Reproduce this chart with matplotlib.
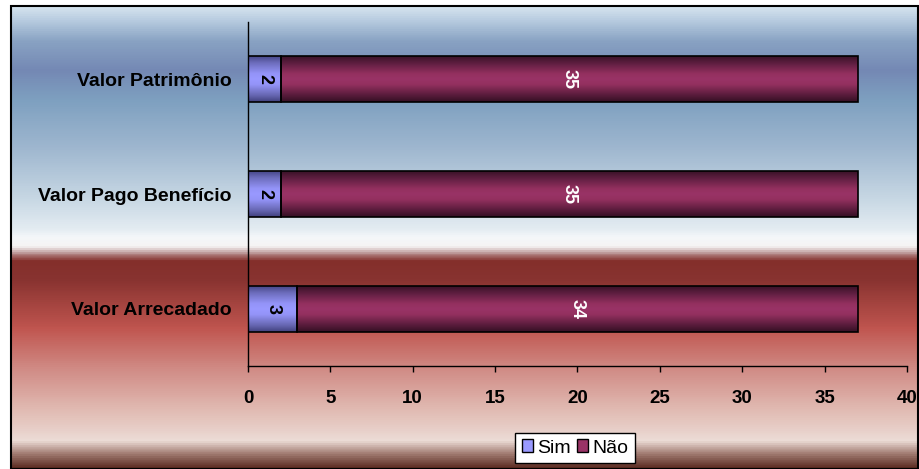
import numpy as np
import matplotlib.pyplot as plt
from matplotlib.colors import LinearSegmentedColormap
from matplotlib.patches import Patch, Rectangle

plt.rcParams['font.family'] = ['Liberation Sans', 'DejaVu Sans']

categorias = ['Valor Arrecadado', 'Valor Pago Benefício', 'Valor Patrimônio']
sim = [3, 2, 2]
nao = [34, 35, 35]

W, H = 920, 469
fig = plt.figure(figsize=(W / 100, H / 100), dpi=100)

# background panel with the blue / white / red gradient
bg = fig.add_axes([11 / W, 0, (918 - 11) / W, (H - 6) / H])
stops = [(0.000, '#d8e6f0'), (0.030, '#b8cce0'), (0.073, '#8aa4c4'),
         (0.138, '#7488b4'), (0.203, '#7ea0c0'), (0.311, '#a0b8d0'),
         (0.419, '#c8d8e4'), (0.484, '#e4ecf2'), (0.500, '#f4f7f9'),
         (0.520, '#f6f4f4'), (0.535, '#b89090'), (0.553, '#842f2b'),
         (0.592, '#883330'), (0.698, '#c0554f'), (0.784, '#d08a84'),
         (0.870, '#e0b8b0'), (0.942, '#ecdcd6'), (0.970, '#a07a70'),
         (1.000, '#5a2a20')]
bg_cmap = LinearSegmentedColormap.from_list('bg', stops)
bg.imshow(np.linspace(0, 1, 500).reshape(-1, 1), cmap=bg_cmap,
          aspect='auto', extent=[0, 1, 1, 0])
bg.set_xlim(0, 1)
bg.set_ylim(1, 0)
bg.axis('off')
fig.patches.append(Rectangle((11 / W, 0), (918 - 11) / W, (H - 6) / H,
                             transform=fig.transFigure, fill=False,
                             edgecolor='black', lw=1.5, zorder=10))

ax = fig.add_axes([248 / W, 1 - 366 / H, (907 - 248) / W, (366 - 22) / H])
ax.patch.set_alpha(0)

y = np.arange(len(categorias))
b1 = ax.barh(y, sim, height=0.4, color='#9999ff', edgecolor='black', lw=1.2)
b2 = ax.barh(y, nao, left=sim, height=0.4, color='#993366',
             edgecolor='black', lw=1.2)

# shaded look of the bars: dark at top and bottom, full colour in the middle
sim_cmap = LinearSegmentedColormap.from_list(
    's', [(0, '#48488a'), (0.15, '#6e6ebe'), (0.38, '#9494f8'), (0.5, '#9999ff'),
          (0.62, '#9494f8'), (0.85, '#6868b4'), (1, '#42427e')])
nao_cmap = LinearSegmentedColormap.from_list(
    'n', [(0, '#3a1228'), (0.15, '#5e1e40'), (0.38, '#93305f'), (0.5, '#993366'),
          (0.62, '#93305f'), (0.85, '#5a1c3c'), (1, '#351024')])
grad = np.linspace(0, 1, 100).reshape(-1, 1)
for bars, cmap in ((b1, sim_cmap), (b2, nao_cmap)):
    for r in bars:
        x0, y0 = r.get_x(), r.get_y()
        im = ax.imshow(grad, cmap=cmap, aspect='auto', origin='lower',
                       interpolation='bilinear',
                       extent=[x0, x0 + r.get_width(), y0 + r.get_height(), y0],
                       zorder=r.get_zorder() - 0.1)
        im.set_clip_path(r)
        r.set_facecolor('none')

for i in range(len(categorias)):
    ax.text(sim[i] / 2, y[i], str(sim[i]), rotation=-90, ha='center',
            va='center', fontsize=13, fontweight='bold', color='black')
    ax.text(sim[i] + nao[i] / 2, y[i], str(nao[i]), rotation=-90,
            ha='center', va='center', fontsize=13, fontweight='bold',
            color='white')

ax.set_xlim(0, 40)
ax.set_ylim(-0.5, 2.5)
ax.set_xticks(range(0, 41, 5))
ax.set_yticks(y)
ax.set_yticklabels(categorias, fontsize=14, fontweight='bold')
ax.tick_params(axis='y', length=0, pad=12)
ax.tick_params(axis='x', length=4, pad=13, labelsize=13.5, width=1)
for lbl in ax.get_xticklabels():
    lbl.set_fontweight('bold')
for s in ('top', 'right'):
    ax.spines[s].set_visible(False)
for s in ('left', 'bottom'):
    ax.spines[s].set_linewidth(1)

leg = fig.legend(handles=[Patch(facecolor='#9999ff', edgecolor='black', label='Sim'),
                          Patch(facecolor='#993366', edgecolor='black', label='Não')],
                 loc='center', bbox_to_anchor=(575 / W, 1 - 448 / H), ncol=2,
                 fontsize=14, frameon=True, fancybox=False, edgecolor='black',
                 framealpha=1, handlelength=0.6, handleheight=0.6,
                 handletextpad=0.2, columnspacing=0.3, borderpad=0.35,
                 borderaxespad=0)
leg.get_frame().set_linewidth(1)

fig.savefig('out.png', dpi=100)
